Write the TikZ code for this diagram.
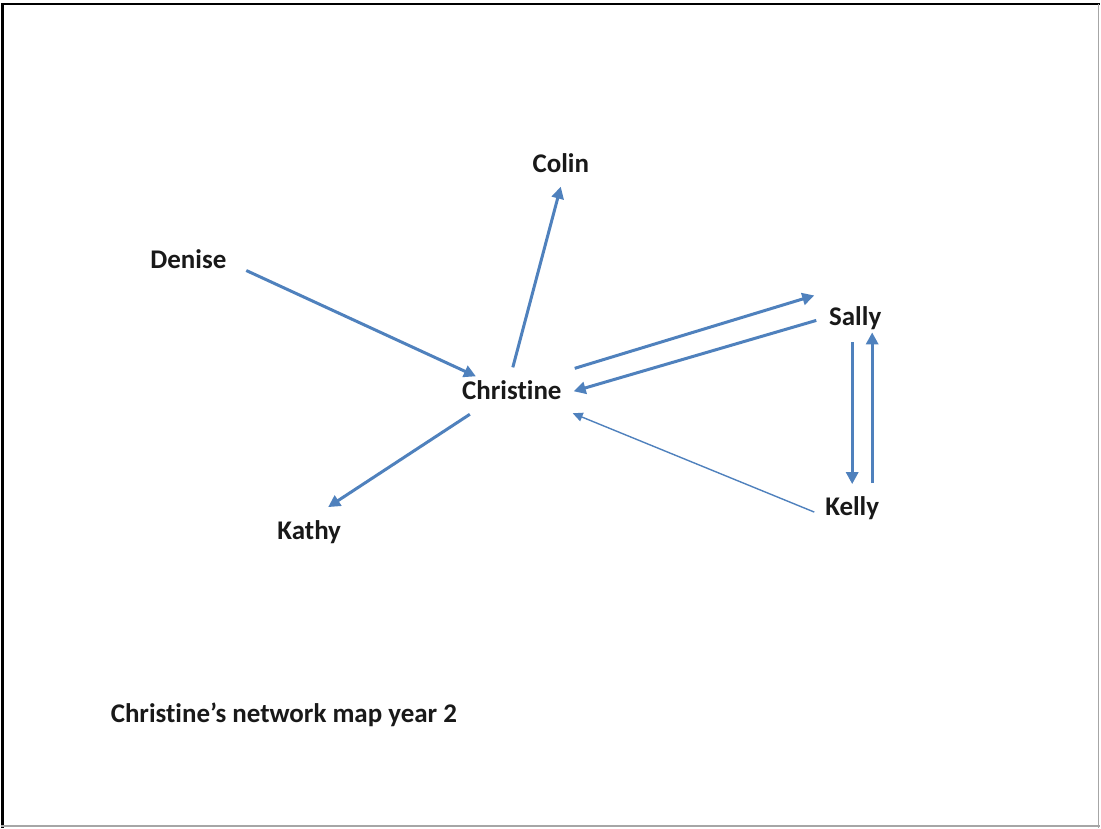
\documentclass[tikz,border=0pt]{standalone}
\usepackage{fontspec}
\setmainfont{Carlito}[Ligatures=NoCommon]
\usetikzlibrary{arrows.meta,calc}
\definecolor{linkblue}{HTML}{4F81BD}
\tikzset{
  person/.style={font=\bfseries\fontsize{27}{32}\selectfont, text=black!90, inner sep=0pt},
  tie/.style={draw=linkblue, line width=3pt, -{Triangle[length=12pt,width=12pt]}},
  weaktie/.style={draw=linkblue, line width=1.4pt, -{Triangle[length=10pt,width=9pt]}},
}
\begin{document}
\begin{tikzpicture}[x=1pt,y=-1pt]
  % page and frame
  \fill[white] (0,0) rectangle (1101,829);
  \draw[black, line width=2.5pt] (2,829) -- (2,4) -- (1101,4);
  \draw[black!35, line width=1.5pt] (0,827.5) -- (1101,827.5);
  \draw[black!35, line width=1pt] (1099.5,4) -- (1099.5,829);

  % people
  \node[person] (Christine) at (512,391) {Christine};
  \node[person] (Colin) at (561,163) {Colin};
  \node[person] (Denise) at (188,260) {Denise};
  \node[person] (Sally) at (856,319) {Sally};
  \node[person] (Kathy) at (309,533) {Kathy};
  \node[person] (Kelly) at (853,509) {Kelly};

  % ties
  \draw[tie] ($(Christine)+(1,-23)$) -- ($(Colin)+(0,24)$);
  \draw[tie] ($(Denise)+(58,11)$) -- ($(Christine)+(-36,-14)$);
  \draw[tie] ($(Christine)+(63,-22)$) -- ($(Sally)+(-41,-23)$);
  \draw[tie] ($(Sally)+(-39,2)$) -- ($(Christine)+(62,1)$);
  \draw[tie] ($(Christine)+(-42,24)$) -- ($(Kathy)+(19,-25)$);
  \draw[weaktie] ($(Kelly)+(-38,4)$) -- ($(Christine)+(61,23)$);
  \draw[tie] ($(Sally)+(-3,24)$) -- ($(Kelly)+(0,-24)$);
  \draw[tie] ($(Kelly)+(20,-25)$) -- ($(Sally)+(17,14)$);

  % caption
  \node[person, anchor=west] (caption) at (110,716) {Christine’s network map year 2};
\end{tikzpicture}
\end{document}
